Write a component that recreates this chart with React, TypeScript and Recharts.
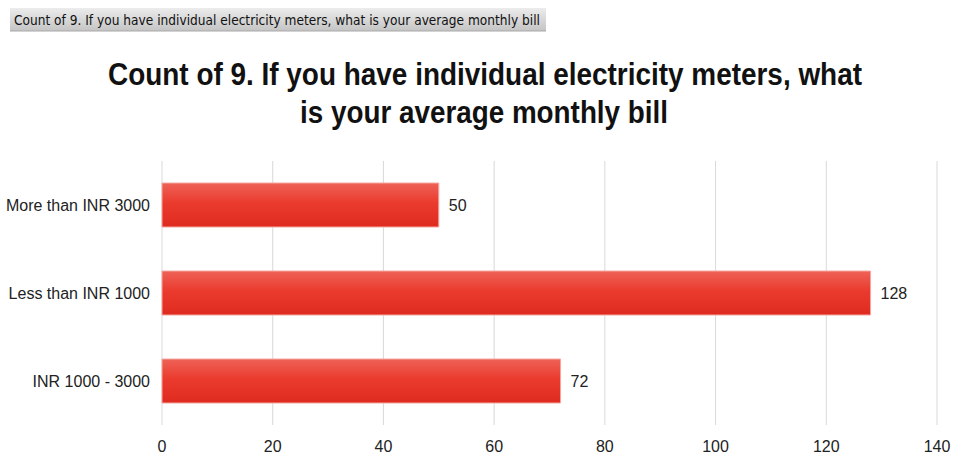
import { BarChart, Bar, XAxis, YAxis, CartesianGrid, LabelList } from "recharts";

const categories = ["More than INR 3000", "Less than INR 1000", "INR 1000 - 3000"];
const counts = [50, 128, 72];
const xTicks = [0, 20, 40, 60, 80, 100, 120, 140];

const pivotLabel = "Count of 9. If you have individual electricity meters, what is your average monthly bill";
const titleLines = ["Count of 9. If you have individual electricity meters, what", "is your average monthly bill"];

const data = categories.map((name, i) => ({ name, count: counts[i] }));

const sans = '"Liberation Sans", Arial, sans-serif';

export default function App() {
  return (
    <div style={{ position: "fixed", left: 0, top: 0, width: 954, height: 459, background: "#fff", overflow: "hidden" }}>
      <svg width={954} height={140} style={{ position: "absolute", left: 0, top: 0 }}>
        <defs>
          <linearGradient id="boxFill" x1="0" y1="0" x2="0" y2="1">
            <stop offset="0%" stopColor="#ececec" />
            <stop offset="100%" stopColor="#c4c4c4" />
          </linearGradient>
        </defs>
        <rect x={10} y={8} width={536} height={23} fill="url(#boxFill)" />
        <line x1={10} y1={31} x2={546} y2={31} stroke="#a8a8a8" />
        <text
          x={14}
          y={25}
          fontFamily='"DejaVu Sans", sans-serif'
          fontSize={14}
          fill="#111"
          textLength={526}
          lengthAdjust="spacingAndGlyphs"
        >
          {pivotLabel}
        </text>
        <text
          x={108}
          y={85}
          fontFamily={sans}
          fontWeight="bold"
          fontSize={31}
          fill="#111"
          textLength={754}
          lengthAdjust="spacingAndGlyphs"
        >
          {titleLines[0]}
        </text>
        <text
          x={300}
          y={123}
          fontFamily={sans}
          fontWeight="bold"
          fontSize={31}
          fill="#111"
          textLength={368}
          lengthAdjust="spacingAndGlyphs"
        >
          {titleLines[1]}
        </text>
      </svg>
      <div style={{ position: "absolute", left: 0, top: 0 }}>
        <BarChart
          width={954}
          height={459}
          data={data}
          layout="vertical"
          barCategoryGap="25%"
          margin={{ top: 161, right: 17, bottom: 4, left: 0 }}
        >
          <defs>
            <linearGradient id="barFill" x1="0" y1="0" x2="0" y2="1">
              <stop offset="0%" stopColor="#ef6257" />
              <stop offset="45%" stopColor="#ea3b2e" />
              <stop offset="100%" stopColor="#df2b1f" />
            </linearGradient>
          </defs>
          <CartesianGrid horizontal={false} stroke="#d9d9d9" />
          <XAxis
            type="number"
            domain={[0, 140]}
            ticks={xTicks}
            axisLine={false}
            tickLine={false}
            height={30}
            tickMargin={10}
            tick={{ fill: "#222", fontSize: 16, fontFamily: sans }}
          />
          <YAxis
            type="category"
            dataKey="name"
            width={162}
            axisLine={false}
            tickLine={false}
            tickMargin={6}
            tick={{ fill: "#222", fontSize: 16, fontFamily: sans }}
          />
          <Bar dataKey="count" fill="url(#barFill)" stroke="#f4a8a0" strokeWidth={1} isAnimationActive={false}>
            <LabelList dataKey="count" position="right" offset={10} fill="#222" fontSize={16} fontFamily={sans} />
          </Bar>
        </BarChart>
      </div>
    </div>
  );
}
